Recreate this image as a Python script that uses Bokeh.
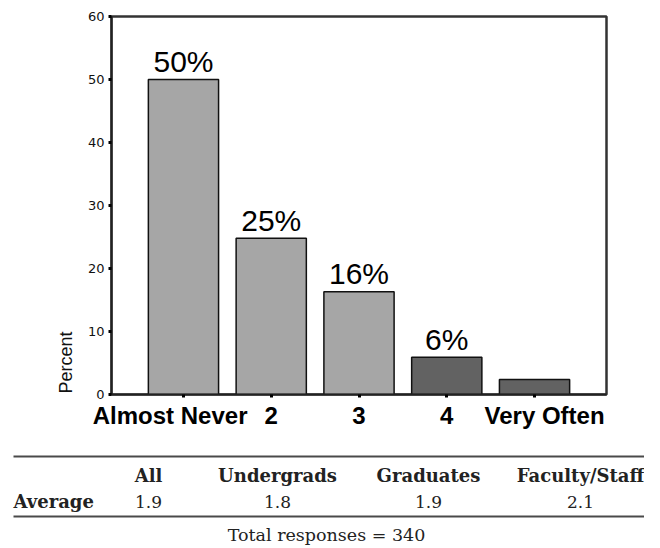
from bokeh.plotting import figure
from bokeh.models import Range1d, FixedTicker, Title
from bokeh.layouts import column
from bokeh.embed import file_html
from bokeh.resources import INLINE
from bokeh.core.properties import value

# ---- data ----
categories = ["Almost Never", "2", "3", "4", "Very Often"]
percents = [50.0, 24.8, 16.3, 5.9, 2.4]
bar_labels = ["50%", "25%", "16%", "6%", ""]
bar_colors = ["#a6a6a6", "#a6a6a6", "#a6a6a6", "#626262", "#626262"]
y_ticks = [0, 10, 20, 30, 40, 50, 60]
y_axis_title = "Percent"

groups = ["All", "Undergrads", "Graduates", "Faculty/Staff"]
averages = ["1.9", "1.8", "1.9", "2.1"]
row_label = "Average"
total_note = "Total responses = 340"

xs = list(range(1, len(categories) + 1))
NB = "\u00a0"
# visual nudges of the long end labels (as in the original rendering)
tick_text = [categories[0] + NB * 4] + categories[1:-1] + [NB * 3 + categories[-1]]

# ---- chart ----
p = figure(width=644, height=440, x_range=Range1d(0.18, 5.82), y_range=Range1d(0, 60),
           output_backend="svg", toolbar_location=None,
           min_border_left=111, min_border_right=38, min_border_top=16, min_border_bottom=46)
p.frame_align = False
p.background_fill_color = "white"
p.border_fill_color = "white"
p.grid.visible = False
p.outline_line_color = "#333333"
p.outline_line_width = 2.5

p.vbar(x=xs, top=percents, width=0.8, fill_color=bar_colors, line_color="#111111", line_width=1.5)
p.text(x=xs, y=percents, text=bar_labels, text_align="center", text_baseline="middle",
       y_offset=-18, text_font=value("Liberation Sans"), text_font_size="30px", text_color="#000000")

p.xaxis.ticker = FixedTicker(ticks=xs)
p.xaxis.major_label_overrides = {x: c for x, c in zip(xs, tick_text)}
p.xaxis.major_label_text_font = "Liberation Sans"
p.xaxis.major_label_text_font_style = "bold"
p.xaxis.major_label_text_font_size = "24px"
p.xaxis.major_label_text_color = "#000000"
p.xaxis.major_label_standoff = 4
p.xaxis.minor_tick_line_color = None
p.xaxis.major_tick_in = 0
p.xaxis.major_tick_out = 3
p.xaxis.major_tick_line_width = 3
p.xaxis.axis_line_width = 2
p.xaxis.axis_line_color = "#222222"

p.yaxis.ticker = FixedTicker(ticks=y_ticks)
p.yaxis.major_label_text_font = "DejaVu Sans"
p.yaxis.major_label_text_font_size = "13px"
p.yaxis.major_label_text_color = "#111111"
p.yaxis.major_label_standoff = 4
p.yaxis.minor_tick_line_color = None
p.yaxis.major_tick_in = 0
p.yaxis.major_tick_out = 3
p.yaxis.major_tick_line_width = 3
p.yaxis.axis_line_width = 2
p.yaxis.axis_line_color = "#222222"

p.add_layout(Title(text=y_axis_title, align="left", standoff=18, offset=1,
                   text_font="Liberation Sans", text_font_size="18px",
                   text_font_style="normal", text_color="#111111"), "left")

# ---- table ----
t = figure(width=644, height=106, x_range=Range1d(0, 644), y_range=Range1d(106, 0),
           output_backend="svg", toolbar_location=None, min_border=0,
           x_axis_location=None, y_axis_location=None)
t.frame_align = False
t.outline_line_color = None
t.grid.visible = False
t.background_fill_color = "white"
t.border_fill_color = "white"

col_x = [148, 277, 428, 580]
t.segment(x0=[13, 13], y0=[16, 76], x1=[644, 644], y1=[16, 76], line_color="#4a4a4a", line_width=2)
t.text(x=col_x, y=[35] * len(groups), text=groups, text_align="center", text_baseline="middle",
       text_font=value("DejaVu Serif"), text_font_style="bold", text_font_size="18px", text_color="#222222")
t.text(x=col_x, y=[61] * len(averages), text=averages, text_align="center", text_baseline="middle",
       text_font=value("DejaVu Serif"), text_font_size="17px", text_color="#222222")
t.text(x=[13], y=[61], text=[row_label], text_align="left", text_baseline="middle",
       text_font=value("DejaVu Serif"), text_font_style="bold", text_font_size="18px", text_color="#222222")
t.text(x=[326], y=[94], text=[total_note], text_align="center", text_baseline="middle",
       text_font=value("DejaVu Serif"), text_font_size="17.5px", text_color="#222222")

layout = column(p, t, spacing=0)
open("out.html", "w").write(file_html(layout, INLINE))
